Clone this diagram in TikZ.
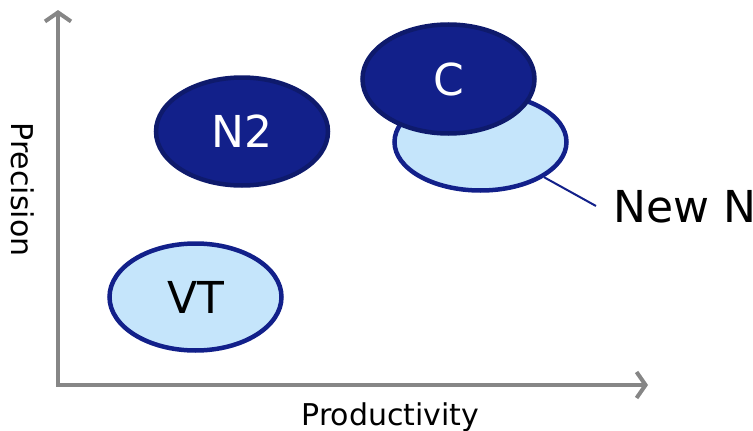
\documentclass[tikz,border=0pt]{standalone}
\usepackage{fontspec}
\setmainfont{DejaVu Sans}
\usetikzlibrary{shapes.geometric,arrows.meta}
\definecolor{navy}{HTML}{12208A}
\definecolor{navyline}{HTML}{0E1A6C}
\definecolor{lightfill}{HTML}{C5E5FB}
\definecolor{axisgray}{HTML}{868686}
\tikzset{
  axis/.style={draw=axisgray,line width=4pt,{Straight Barb[length=9pt,width=26pt,line width=4pt]}-{Straight Barb[length=9pt,width=26pt,line width=4pt]}},
  blob/.style={ellipse,inner sep=0pt,minimum width=172pt,line width=4.5pt,font=\fontsize{44}{52}\selectfont},
  darkblob/.style={blob,fill=navy,draw=navyline,text=white},
  lightblob/.style={blob,fill=lightfill,draw=navy,text=black},
  axislabel/.style={font=\fontsize{30}{36}\selectfont,inner sep=0pt},
}
\begin{document}
\begin{tikzpicture}[x=1pt,y=-1pt]
\useasboundingbox (0,0) rectangle (753,431);
\coordinate (ytop) at (58,10);
\coordinate (origin) at (58,385);
\coordinate (xend) at (648,385);
\draw[axis] (ytop) -- (origin) -- (xend);
\node[axislabel,rotate=-90] (ylab) at (22.5,189.5) {Precision};
\node[axislabel,anchor=base] (xlab) at (390.5,425) {Productivity};
\node[darkblob,minimum height=108pt] (n2) at (242,131.5) {N2};
\node[lightblob,minimum height=107pt] (vt) at (195.5,297) {VT};
\node[lightblob,minimum height=97pt] (newn) at (480.5,142) {};
\node[darkblob,minimum height=109pt] (c) at (448.5,79) {C};
\node[anchor=base west,inner sep=0pt,font=\fontsize{44}{52}\selectfont] (newnlab) at (613,222) {New N};
\coordinate (lineend) at (596,206);
\draw[navy,line width=2pt] (newn) -- (lineend);
\end{tikzpicture}
\end{document}
